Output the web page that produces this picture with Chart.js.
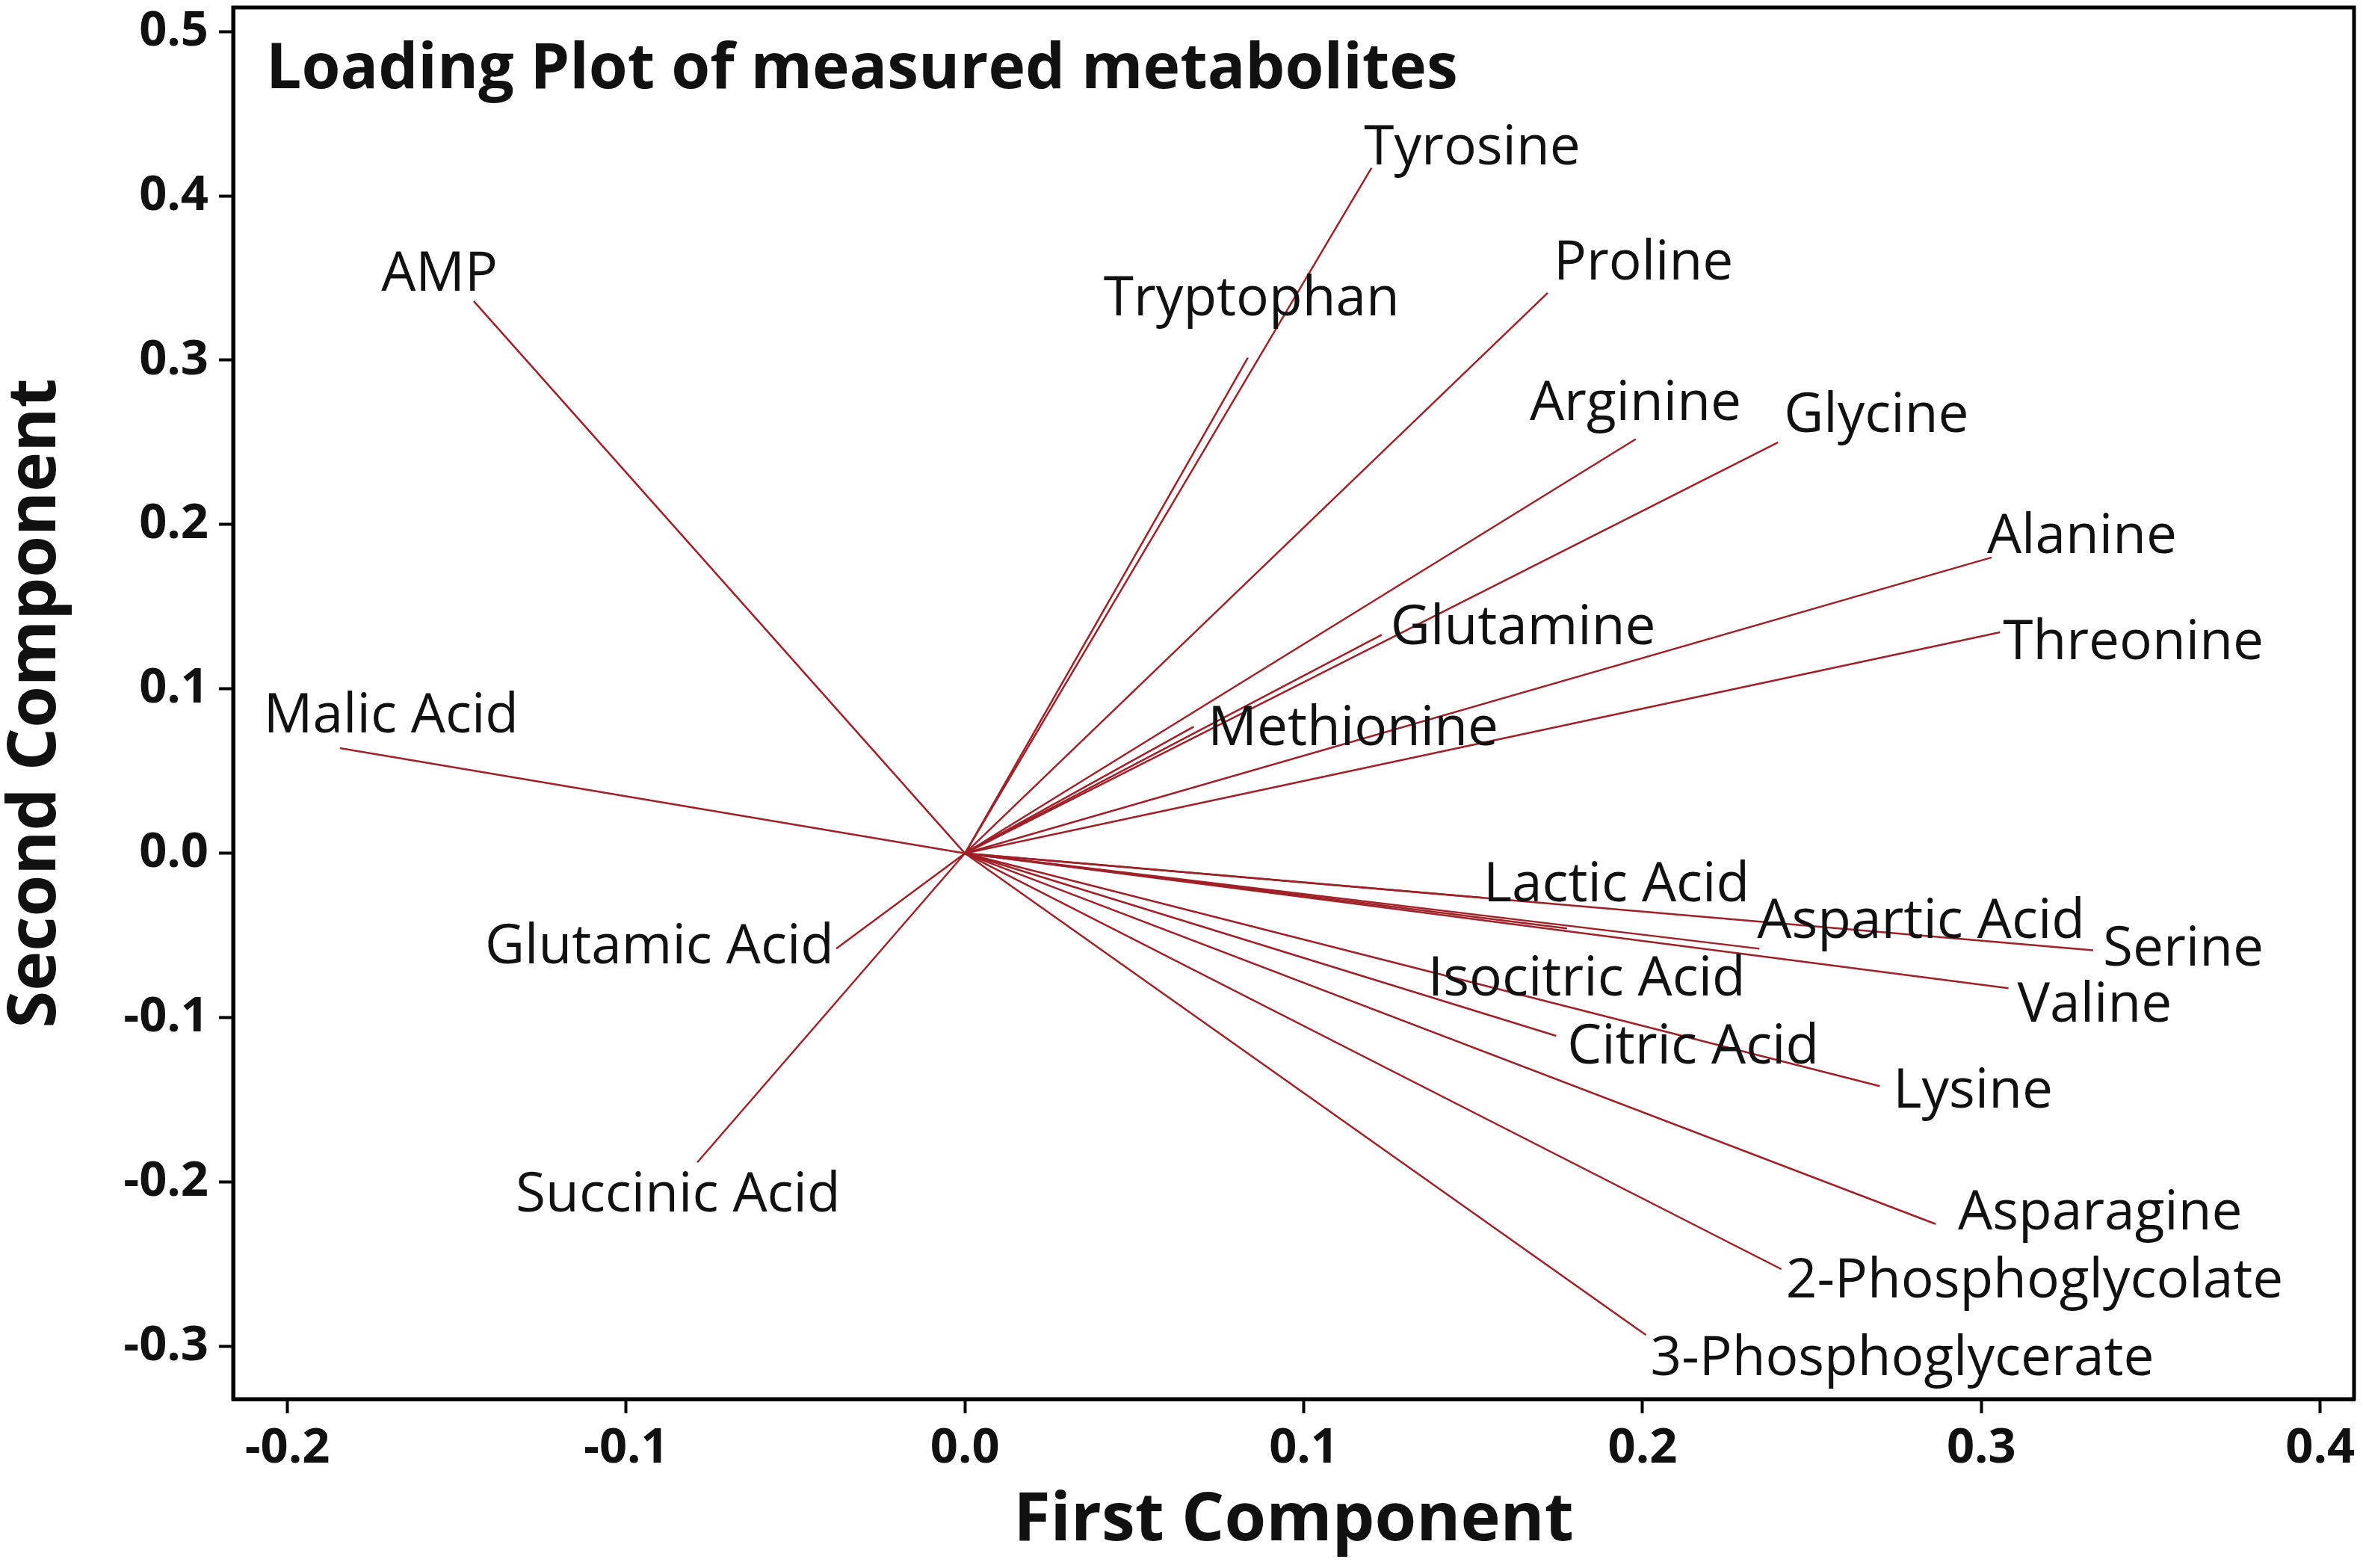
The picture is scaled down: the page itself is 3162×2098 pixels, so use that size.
<!DOCTYPE html>
<html lang="en">
<head>
    <meta charset="UTF-8">
    <title>Loading Plot of measured metabolites</title>
    <script src="https://cdn.jsdelivr.net/npm/chart.js"></script>
    <style>
        html, body { margin: 0; padding: 0; background: #ffffff; }
        #wrap { width: 3162px; height: 2098px; position: relative; }
    </style>
</head>
<body>
    <div id="wrap"><canvas id="loadingChart"></canvas></div>
    <script>
        // loadings (first / second component)
        const metabolites = [
            'AMP', 'Malic Acid', 'Glutamic Acid', 'Succinic Acid',
            'Tyrosine', 'Tryptophan', 'Proline', 'Arginine', 'Glycine',
            'Alanine', 'Threonine', 'Glutamine', 'Methionine',
            'Lactic Acid', 'Aspartic Acid', 'Serine', 'Valine',
            'Isocitric Acid', 'Citric Acid', 'Lysine', 'Asparagine',
            '2-Phosphoglycolate', '3-Phosphoglycerate'
        ];
        const pc1 = [
            -0.145, -0.1845, -0.038, -0.079,
            0.120, 0.0835, 0.172, 0.198, 0.240,
            0.303, 0.3055, 0.123, 0.0675,
            0.153, 0.2345, 0.333, 0.308,
            0.1777, 0.1745, 0.270, 0.2865,
            0.241, 0.201
        ];
        const pc2 = [
            0.336, 0.064, -0.058, -0.188,
            0.417, 0.3015, 0.341, 0.252, 0.250,
            0.180, 0.1345, 0.133, 0.077,
            -0.027, -0.058, -0.059, -0.082,
            -0.0457, -0.111, -0.1416, -0.2255,
            -0.253, -0.293
        ];
        const xTicks = [-0.2, -0.1, 0.0, 0.1, 0.2, 0.3, 0.4];
        const yTicks = [-0.3, -0.2, -0.1, 0.0, 0.1, 0.2, 0.3, 0.4, 0.5];

        // where each name sits relative to the end of its vector: [align, dx, dy] in px
        const labelPlace = {
            'AMP': ['right', 32, -14],
            'Malic Acid': ['left', -102, -21],
            'Glutamic Acid': ['right', -3, 20],
            'Succinic Acid': ['left', -243, 66],
            'Tyrosine': ['left', -10, -5],
            'Tryptophan': ['left', -193, -57],
            'Proline': ['left', 8, -18],
            'Arginine': ['left', -142, -26],
            'Glycine': ['left', 8, -14],
            'Alanine': ['left', -6, -6],
            'Threonine': ['left', 4, 36],
            'Glutamine': ['left', 12, 13],
            'Methionine': ['left', 19, 25],
            'Lactic Acid': ['left', 0, 5],
            'Aspartic Acid': ['left', -3, -14],
            'Serine': ['left', 13, 20],
            'Valine': ['left', 12, 45],
            'Isocitric Acid': ['left', -186, 90],
            'Citric Acid': ['left', 15, 37],
            'Lysine': ['left', 18, 29],
            'Asparagine': ['left', 30, 7],
            '2-Phosphoglycolate': ['left', 6, 38],
            '3-Phosphoglycerate': ['left', 6, 54]
        };

        const lineColor = 'rgb(160, 32, 40)';
        const fontFamily = '"Open Sans", "Noto Sans", sans-serif';

        const datasets = metabolites.map((name, i) => ({
            label: name,
            data: [{ x: 0, y: 0 }, { x: pc1[i], y: pc2[i] }],
            showLine: true,
            borderColor: lineColor,
            borderWidth: 2.5,
            pointRadius: 0,
            fill: false
        }));

        const namesPlugin = {
            id: 'names',
            afterDatasetsDraw(chart) {
                const ctx = chart.ctx;
                const xs = chart.scales.x;
                const ys = chart.scales.y;
                ctx.save();
                ctx.fillStyle = '#111111';
                ctx.font = '73px ' + fontFamily;
                ctx.textBaseline = 'alphabetic';
                metabolites.forEach((name, i) => {
                    const p = labelPlace[name] || ['left', 0, 0];
                    ctx.textAlign = p[0];
                    ctx.fillText(name, xs.getPixelForValue(pc1[i]) + p[1], ys.getPixelForValue(pc2[i]) + p[2]);
                });
                // title inside the frame
                const area = chart.chartArea;
                ctx.textAlign = 'left';
                ctx.font = 'bold 84px ' + fontFamily;
                ctx.fillText('Loading Plot of measured metabolites', area.left + 44, area.top + 108);
                ctx.restore();
            },
            afterDraw(chart) {
                const ctx = chart.ctx;
                const a = chart.chartArea;
                ctx.save();
                ctx.strokeStyle = '#000000';
                ctx.lineWidth = 5;
                ctx.strokeRect(a.left, a.top, a.right - a.left, a.bottom - a.top);
                ctx.restore();
            }
        };

        new Chart(document.getElementById('loadingChart'), {
            type: 'scatter',
            data: { datasets: datasets },
            options: {
                responsive: true,
                maintainAspectRatio: false,
                animation: false,
                layout: { padding: { top: 10, right: 12, left: 0, bottom: 0 } },
                plugins: {
                    legend: { display: false },
                    tooltip: { enabled: false }
                },
                scales: {
                    x: {
                        type: 'linear',
                        min: -0.216,
                        max: 0.41,
                        afterBuildTicks: (s) => { s.ticks = xTicks.map(v => ({ value: v })); },
                        afterFit: (s) => { s.height = 226; },
                        grid: { drawOnChartArea: false, drawTicks: true, tickLength: 19, tickWidth: 4, color: '#000000' },
                        border: { display: true, color: '#000000', width: 5 },
                        ticks: {
                            color: '#111111',
                            padding: 8,
                            maxRotation: 0,
                            font: { family: fontFamily, size: 65, weight: 'bold' },
                            callback: (v) => Number(v).toFixed(1)
                        },
                        title: {
                            display: true,
                            text: 'First Component',
                            color: '#111111',
                            padding: { top: 0, bottom: 18 },
                            font: { family: fontFamily, size: 90, weight: 'bold', lineHeight: 1 }
                        }
                    },
                    y: {
                        type: 'linear',
                        min: -0.332,
                        max: 0.5146,
                        afterBuildTicks: (s) => { s.ticks = yTicks.map(v => ({ value: v })); },
                        afterFit: (s) => { s.width = 312; s.paddingTop = 0; s.paddingBottom = 0; },
                        grid: { drawOnChartArea: false, drawTicks: true, tickLength: 19, tickWidth: 4, color: '#000000' },
                        border: { display: true, color: '#000000', width: 5 },
                        ticks: {
                            color: '#111111',
                            padding: 14,
                            font: { family: fontFamily, size: 65, weight: 'bold' },
                            callback: (v) => Number(v).toFixed(1)
                        },
                        title: {
                            display: true,
                            text: 'Second Component',
                            color: '#111111',
                            padding: { top: 3, bottom: 0 },
                            font: { family: fontFamily, size: 90, weight: 'bold', lineHeight: 1 }
                        }
                    }
                }
            },
            plugins: [namesPlugin]
        });
    </script>
</body>
</html>
